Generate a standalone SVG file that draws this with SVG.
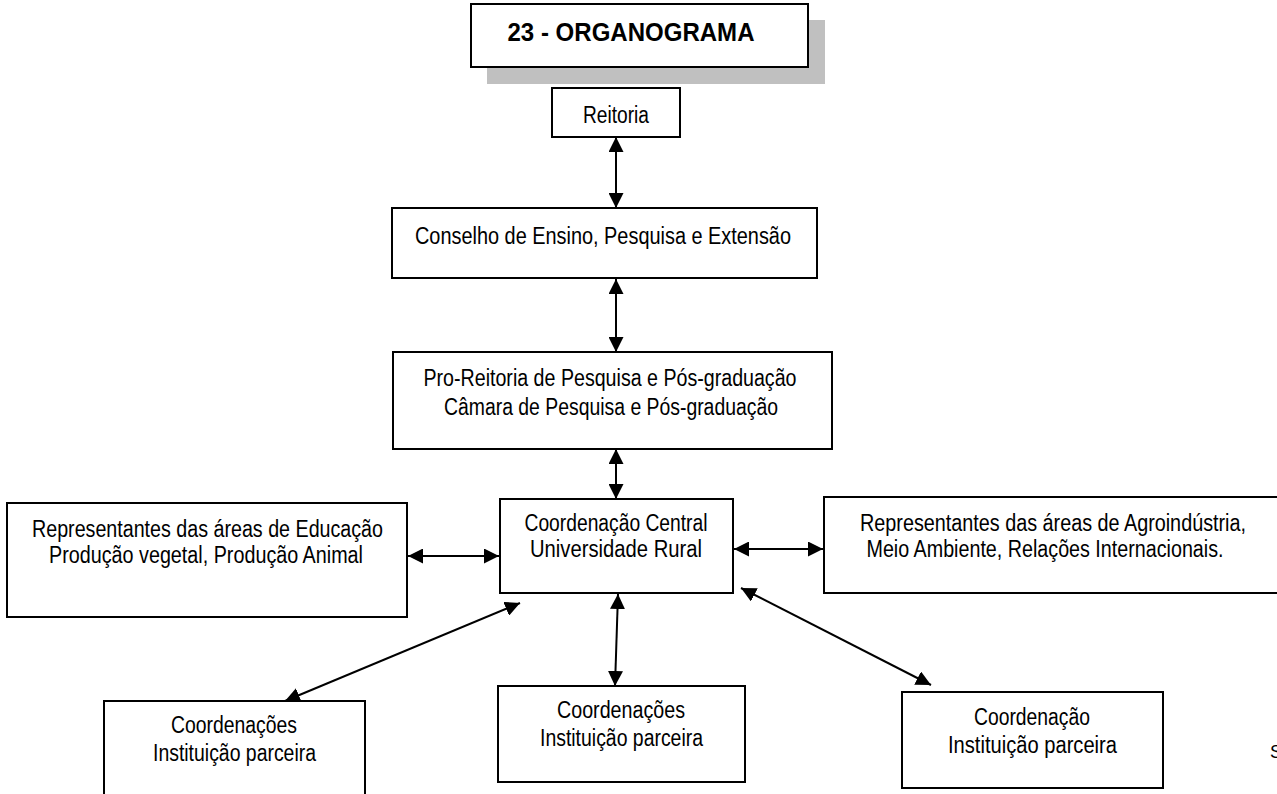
<svg xmlns="http://www.w3.org/2000/svg" width="1277" height="794" viewBox="0 0 1277 794">
<style>
.box{fill:#fff;stroke:#000;stroke-width:2}
.t{font-family:"Liberation Sans",Arial,sans-serif;font-size:23px;fill:#000;text-anchor:middle}
.title{font-family:"Liberation Sans",Arial,sans-serif;font-size:26px;font-weight:bold;fill:#000;text-anchor:middle}
.c{stroke:#000;stroke-width:2;fill:none;marker-start:url(#ah);marker-end:url(#ah)}
</style>
<defs>
<marker id="ah" viewBox="0 0 15 15" refX="15" refY="7.5" markerWidth="15" markerHeight="15" markerUnits="userSpaceOnUse" orient="auto-start-reverse">
<path d="M0,0 L15,7.5 L0,15 Z" fill="#000"/>
</marker>
</defs>
<rect width="1277" height="794" fill="#fff"/>

<g id="title">
<rect x="487" y="20" width="338" height="64" fill="#c0c0c0"/>
<rect class="box" x="471" y="4" width="337" height="63"/>
<text class="title" x="631" y="41" textLength="247" lengthAdjust="spacingAndGlyphs">23 - ORGANOGRAMA</text>
</g>

<g id="reitoria">
<rect class="box" x="552" y="88" width="128" height="49"/>
<text class="t" x="616" y="123" textLength="66" lengthAdjust="spacingAndGlyphs">Reitoria</text>
</g>

<g id="conselho">
<rect class="box" x="392" y="208" width="425" height="70"/>
<text class="t" x="603" y="244" textLength="376" lengthAdjust="spacingAndGlyphs">Conselho de Ensino, Pesquisa e Extensão</text>
</g>

<g id="proreitoria">
<rect class="box" x="393" y="352" width="439" height="97"/>
<text class="t" x="610" y="386" textLength="373" lengthAdjust="spacingAndGlyphs">Pro-Reitoria de Pesquisa e Pós-graduação</text>
<text class="t" x="611" y="415" textLength="334" lengthAdjust="spacingAndGlyphs">Câmara de Pesquisa e Pós-graduação</text>
</g>

<g id="coord-central">
<rect class="box" x="500" y="499" width="233" height="94"/>
<text class="t" x="616" y="531" textLength="183" lengthAdjust="spacingAndGlyphs">Coordenação Central</text>
<text class="t" x="616" y="557" textLength="172" lengthAdjust="spacingAndGlyphs">Universidade Rural</text>
</g>

<g id="rep-educacao">
<rect class="box" x="7" y="503" width="400" height="114"/>
<text class="t" x="207.5" y="537" textLength="351" lengthAdjust="spacingAndGlyphs">Representantes das áreas de Educação</text>
<text class="t" x="206" y="563" textLength="314" lengthAdjust="spacingAndGlyphs">Produção vegetal, Produção Animal</text>
</g>

<g id="rep-agro">
<rect x="824" y="497" width="453" height="96" fill="#fff"/>
<path d="M1277,497 H824 V593 H1277" fill="none" stroke="#000" stroke-width="2"/>
<text class="t" x="1053" y="531" textLength="386" lengthAdjust="spacingAndGlyphs">Representantes das áreas de Agroindústria,</text>
<text class="t" x="1045" y="557" textLength="357" lengthAdjust="spacingAndGlyphs">Meio Ambiente, Relações Internacionais.</text>
</g>

<g id="coord-left">
<rect class="box" x="104" y="701" width="261" height="110"/>
<text class="t" x="234" y="733" textLength="126" lengthAdjust="spacingAndGlyphs">Coordenações</text>
<text class="t" x="234.5" y="761" textLength="163" lengthAdjust="spacingAndGlyphs">Instituição parceira</text>
</g>

<g id="coord-mid">
<rect class="box" x="498" y="686" width="247" height="96"/>
<text class="t" x="621" y="718" textLength="128" lengthAdjust="spacingAndGlyphs">Coordenações</text>
<text class="t" x="621.5" y="746" textLength="163" lengthAdjust="spacingAndGlyphs">Instituição parceira</text>
</g>

<g id="coord-right">
<rect class="box" x="902" y="692" width="261" height="96"/>
<text class="t" x="1032" y="725" textLength="116" lengthAdjust="spacingAndGlyphs">Coordenação</text>
<text class="t" x="1032.5" y="753" textLength="169" lengthAdjust="spacingAndGlyphs">Instituição parceira</text>
</g>

<g id="connectors">
<line class="c" x1="616" y1="137" x2="616" y2="208"/>
<line class="c" x1="616" y1="279" x2="616" y2="352"/>
<line class="c" x1="616" y1="449" x2="616" y2="499"/>
<line class="c" x1="408" y1="556" x2="499" y2="556"/>
<line class="c" x1="734" y1="549" x2="823" y2="549"/>
<line class="c" x1="618" y1="594" x2="615" y2="686"/>
<line class="c" x1="520" y1="603" x2="285" y2="701"/>
<line class="c" x1="741" y1="588" x2="931" y2="685"/>
</g>

<text x="1270" y="758" style="font-family:'Liberation Sans',Arial,sans-serif;font-size:18px;fill:#000">S</text>
</svg>
